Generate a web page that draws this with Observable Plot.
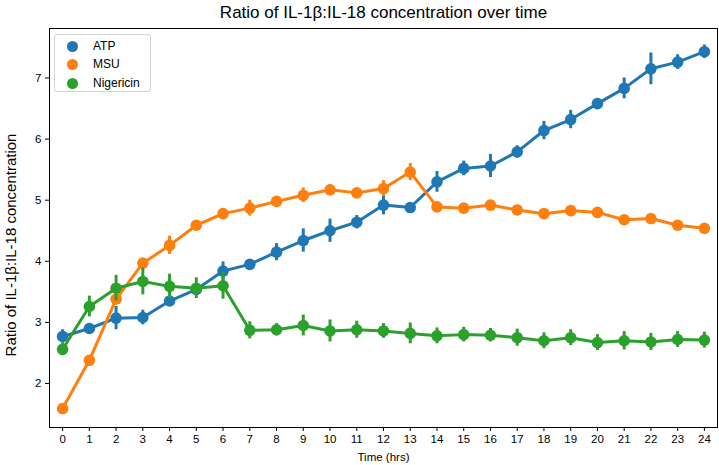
<!DOCTYPE html>
<html>
<head>
<meta charset="utf-8">
<script src="https://cdn.jsdelivr.net/npm/d3@7"></script>
<script src="https://cdn.jsdelivr.net/npm/@observablehq/plot@0.6"></script>
<style>
  html, body { margin: 0; padding: 0; background: #fff; }
  body { font-family: "Liberation Sans", Arial, sans-serif; }
  #wrap { position: relative; width: 719px; height: 465px; }
  #legend {
    position: absolute; left: 54px; top: 34px; width: 97px; height: 58px;
    border: 1px solid #d3d3d3; border-radius: 3px; background: rgba(255,255,255,0.8);
    box-sizing: border-box; font-size: 12px; color: #000;
  }
  .item { position: absolute; left: 0; height: 14px; line-height: 14px; }
  .sw { position: absolute; left: 12px; top: 2px; width: 11px; height: 11px; border-radius: 50%; }
  .lb { position: absolute; left: 38px; top: 0; white-space: nowrap; }
</style>
</head>
<body>
<div id="wrap"></div>
<script>
const hours = [0,1,2,3,4,5,6,7,8,9,10,11,12,13,14,15,16,17,18,19,20,21,22,23,24];
const series = ["ATP", "MSU", "Nigericin"];
const colors = ["#1f77b4", "#ff7f0e", "#2ca02c"];

const atp    = [2.77,2.90,3.07,3.08,3.35,3.54,3.84,3.95,4.15,4.34,4.50,4.64,4.92,4.88,5.30,5.52,5.56,5.79,6.14,6.32,6.58,6.83,7.15,7.26,7.43];
const atpErr = [0.11,0.05,0.19,0.12,0.06,0.07,0.15,0.08,0.14,0.19,0.19,0.11,0.16,0.05,0.17,0.12,0.19,0.10,0.15,0.15,0.08,0.17,0.26,0.12,0.11];
const msu    = [1.59,2.38,3.38,3.97,4.26,4.59,4.78,4.87,4.98,5.08,5.17,5.12,5.19,5.46,4.89,4.87,4.92,4.84,4.78,4.83,4.80,4.68,4.70,4.59,4.54];
const msuErr = [0.05,0.05,0.08,0.07,0.15,0.05,0.06,0.13,0.06,0.12,0.08,0.06,0.13,0.14,0.05,0.05,0.04,0.05,0.06,0.05,0.05,0.05,0.05,0.06,0.07];
const nig    = [2.56,3.26,3.56,3.67,3.59,3.56,3.60,2.87,2.88,2.95,2.86,2.88,2.86,2.82,2.78,2.80,2.79,2.75,2.70,2.75,2.67,2.70,2.68,2.72,2.71];
const nigErr = [0.10,0.17,0.21,0.22,0.20,0.17,0.22,0.14,0.10,0.17,0.18,0.14,0.12,0.17,0.13,0.12,0.11,0.14,0.13,0.13,0.13,0.15,0.14,0.13,0.13];

const yTicks = [2,3,4,5,6,7];
const titleText = "Ratio of IL-1β:IL-18 concentration over time";
const xLabel = "Time (hrs)";
const yLabel = "Ratio of IL-1β:IL-18 concentration";

const valuesBySeries = [atp, msu, nig];
const errBySeries = [atpErr, msuErr, nigErr];
const rows = [];
series.forEach((s, i) => {
  hours.forEach((h, j) => {
    rows.push({series: s, hour: h, value: valuesBySeries[i][j], lo: valuesBySeries[i][j] - errBySeries[i][j], hi: valuesBySeries[i][j] + errBySeries[i][j]});
  });
});

const marks = [];
series.forEach((s) => {
  const d = rows.filter(r => r.series === s);
  marks.push(Plot.ruleX(d, {x: "hour", y1: "lo", y2: "hi", stroke: "series", strokeWidth: 3}));
  marks.push(Plot.line(d, {x: "hour", y: "value", stroke: "series", strokeWidth: 3}));
  marks.push(Plot.dot(d, {x: "hour", y: "value", fill: "series", r: 5.8}));
});

const chart = Plot.plot({
  width: 719,
  height: 465,
  marginLeft: 49,
  marginRight: 2,
  marginTop: 28,
  marginBottom: 38,
  style: {fontFamily: "'Liberation Sans', Arial, sans-serif", color: "#000", background: "#fff"},
  x: {domain: [-0.49, 24.49]},
  y: {domain: [1.28, 7.81]},
  color: {domain: series, range: colors},
  marks: [
    ...marks,
    Plot.frame({stroke: "#000", strokeWidth: 1}),
    Plot.axisX({ticks: hours, tickFormat: d => String(d), tickSize: 4, tickPadding: 3, fontSize: 11.5, label: null}),
    Plot.axisY({ticks: yTicks, tickFormat: d => String(d), tickSize: 4, tickPadding: 4, fontSize: 11.5, label: null}),
    Plot.text([titleText], {frameAnchor: "top", dy: -16, fontSize: 17, text: d => d, lineAnchor: "middle"}),
    Plot.text([xLabel], {frameAnchor: "bottom", dy: 30, fontSize: 11.5, text: d => d, lineAnchor: "middle"}),
    Plot.text([yLabel], {frameAnchor: "left", dx: -38, dy: 17, rotate: -90, fontSize: 15, text: d => d, textAnchor: "middle", lineAnchor: "middle"})
  ]
});

const wrap = document.getElementById("wrap");
wrap.appendChild(chart);

const legend = document.createElement("div");
legend.id = "legend";
series.forEach((s, i) => {
  const item = document.createElement("div");
  item.className = "item";
  item.style.top = (4 + i * 18.3) + "px";
  item.style.width = "100%";
  const sw = document.createElement("span");
  sw.className = "sw";
  sw.style.background = colors[i];
  const lb = document.createElement("span");
  lb.className = "lb";
  lb.textContent = s;
  item.appendChild(sw);
  item.appendChild(lb);
  legend.appendChild(item);
});
wrap.appendChild(legend);
</script>
</body>
</html>
